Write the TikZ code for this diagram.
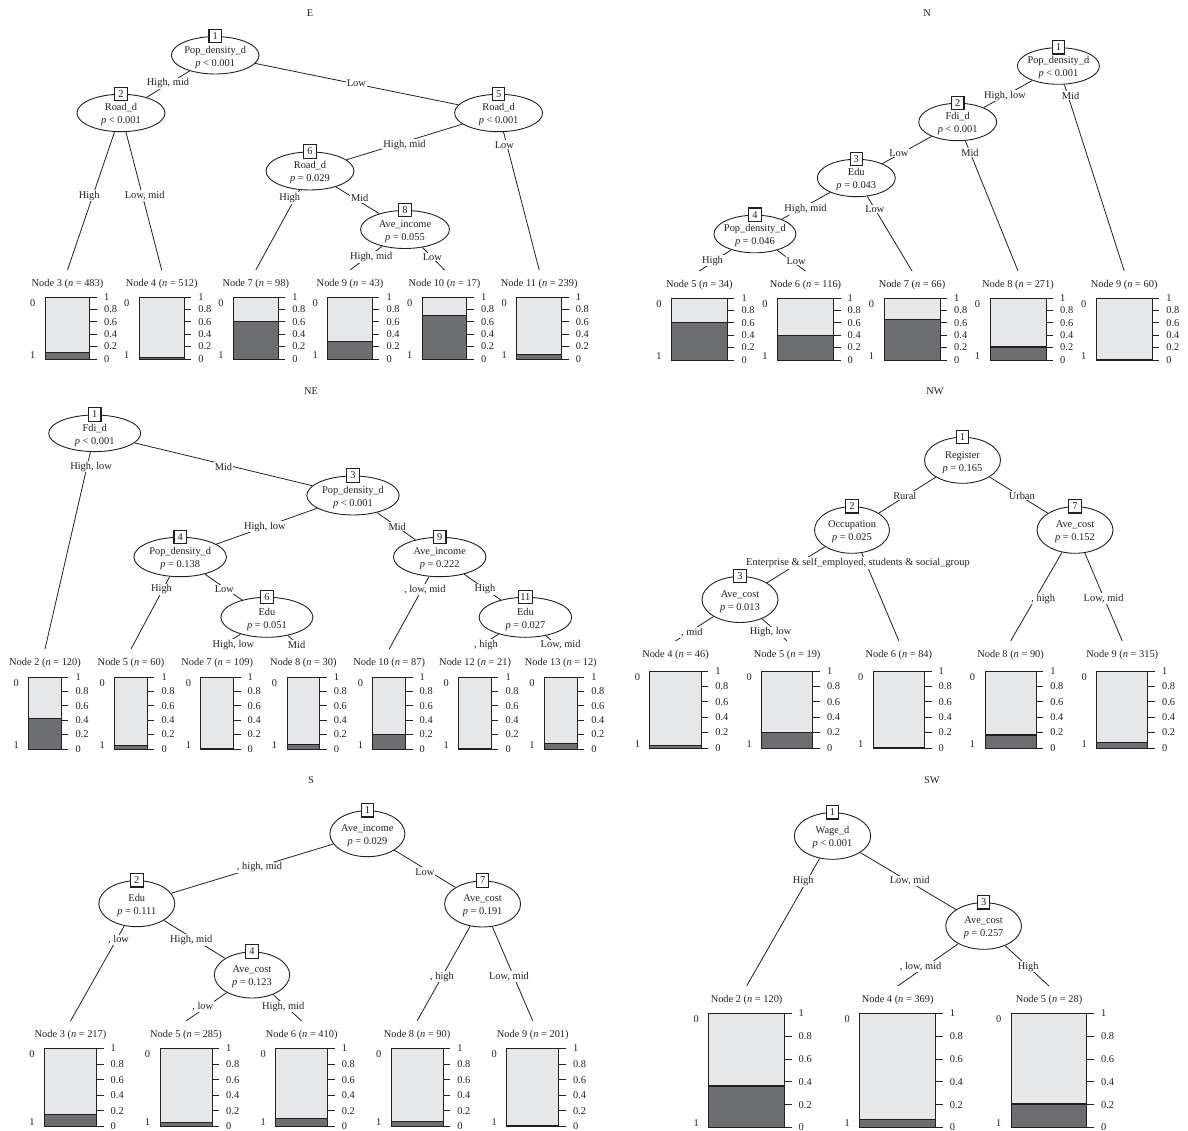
\documentclass[tikz,border=0pt]{standalone}
\usepackage{fontspec}
\setmainfont{Liberation Serif}
\usetikzlibrary{shapes.geometric}
\pgfdeclarelayer{bg}
\pgfsetlayers{bg,main}
\definecolor{barlight}{HTML}{E6E7E8}
\definecolor{bardark}{HTML}{6D6E71}
\definecolor{ink}{HTML}{231F20}
\tikzset{
  every node/.style={font=\fontsize{10.4}{13}\selectfont, text=ink},
  inode/.style={ellipse, draw=ink, line width=0.9pt, fill=white, inner sep=0pt, align=center},
  numbox/.style={draw=ink, line width=1.1pt, fill=white, inner xsep=2pt, inner ysep=0pt, minimum width=12.5pt, minimum height=13.5pt},
  elabs/.style={fill=white, inner sep=1pt},
  conn/.style={draw=ink, line width=0.8pt},
  hdr/.style={inner sep=0pt},
  ttl/.style={inner sep=0pt},
  ticklab/.style={inner sep=0pt},
  barframe/.style={draw=ink, line width=0.9pt},
  barsep/.style={draw=ink, line width=1.2pt},
}
\newcommand\pv[1]{\textit{p} #1}
\newcommand\ilinebox[1]{\raisebox{-4.3pt}[0pt][0pt]{\makebox[0pt]{#1}}}
\newcommand\treenode[8]{%
  \node[inode, minimum width=#4pt, minimum height=#5pt] (#1) at (#2,#3) {\ilinebox{#6}\\\ilinebox{#7}};
  \node[numbox] (#1n) at (#1.north) {#8};
}
\newcommand\elab[3]{\node[elabs] (#1) at (#2) {#3};}
% name, x, header y, node number, n, top, bottom, half width, dark fraction
\newcommand\leaf[9]{%
  \node[hdr] (#1) at (#2,#3) {Node #4 (\textit{n} = #5)};
  \coordinate (#1t) at (#2,#3-14);
  \pgfmathsetmacro\lbL{#2-#8}%
  \pgfmathsetmacro\lbR{#2+#8}%
  \pgfmathsetmacro\lbF{#7-(#7-#6)*#9}%
  \fill[barlight] (\lbL,#6) rectangle (\lbR,#7);
  \fill[bardark] (\lbL,\lbF) rectangle (\lbR,#7);
  \draw[barsep] (\lbL,\lbF) -- (\lbR,\lbF);
  \draw[barframe] (\lbL,#6) rectangle (\lbR,#7);
  \foreach \lbT/\lbLab [count=\lbI] in {0/1,0.2/0.8,0.4/0.6,0.6/0.4,0.8/0.2,1/0}{%
    \pgfmathsetmacro\lbY{#6+(#7-#6)*\lbT}%
    \draw[barframe] (\lbR,\lbY) -- ++(7,0);
    \node[ticklab, anchor=west] (#1k\lbI) at (\lbR+14,\lbY) {\lbLab};
  }
  \node[ticklab] (#1z) at (\lbL-12.5,#6+6) {0};
  \node[ticklab] (#1o) at (\lbL-12.5,#7-4) {1};
}
\begin{document}
\begin{tikzpicture}[x=1pt,y=-1pt]
\useasboundingbox (0,0) rectangle (1188,1131);

% ================= E =================
\node[ttl] (tE) at (310,13) {E};
\treenode{eA1}{215.2}{55.3}{87.6}{37.4}{Pop\_density\_d}{\pv{< 0.001}}{1}
\treenode{eA2}{121}{113}{88}{37.4}{Road\_d}{\pv{< 0.001}}{2}
\treenode{eA5}{498.6}{113}{88}{37.4}{Road\_d}{\pv{< 0.001}}{5}
\treenode{eA6}{310}{171}{88}{38}{Road\_d}{\pv{= 0.029}}{6}
\treenode{eA8}{405}{229.5}{89}{38}{Ave\_income}{\pv{= 0.055}}{8}
\leaf{eL3}{67.5}{284}{3}{483}{297}{359}{22.4}{0.10}
\leaf{eL4}{161.7}{284}{4}{512}{297}{359}{22.4}{0.02}
\leaf{eL7}{255.8}{284}{7}{98}{297}{359}{22.4}{0.60}
\leaf{eL9}{350}{284}{9}{43}{297}{359}{22.4}{0.28}
\leaf{eL10}{444.5}{284}{10}{17}{297}{359}{22.4}{0.70}
\leaf{eL11}{539.2}{284}{11}{239}{297}{359}{22.4}{0.07}
\elab{eE1}{168,83.3}{High, mid}
\elab{eE2}{356.3,83.3}{Low}
\elab{eE3}{89.2,195.7}{High}
\elab{eE4}{144.7,195.7}{Low, mid}
\elab{eE5}{404.5,144.7}{High, mid}
\elab{eE6}{504.4,144.7}{Low}
\elab{eE7}{289.7,198}{High}
\elab{eE8}{359.7,198}{Mid}
\elab{eE9}{371.2,257}{High, mid}
\elab{eE10}{432.4,257}{Low}
\begin{pgfonlayer}{bg}
\draw[conn] (eA1) -- (eA2);
\draw[conn] (eA1) -- (eA5);
\draw[conn] (eA2) -- (eL3t);
\draw[conn] (eA2) -- (eL4t);
\draw[conn] (eA5) -- (eA6);
\draw[conn] (eA5) -- (eL11t);
\draw[conn] (eA6) -- (eL7t);
\draw[conn] (eA6) -- (eA8);
\draw[conn] (eA8) -- (eL9t);
\draw[conn] (eA8) -- (eL10t);
\end{pgfonlayer}

% ================= N =================
\node[ttl] (tN) at (927,13) {N};
\treenode{nA1}{1058.4}{66}{82}{36.6}{Pop\_density\_d}{\pv{< 0.001}}{1}
\treenode{nA2}{957.7}{122}{78}{37.4}{Fdi\_d}{\pv{< 0.001}}{2}
\treenode{nA3}{856.3}{178}{78}{37.4}{Edu}{\pv{= 0.043}}{3}
\treenode{nA4}{754.9}{234}{82}{37.6}{Pop\_density\_d}{\pv{= 0.046}}{4}
\leaf{nL5}{699.4}{285}{5}{34}{298}{360}{28}{0.61}
\leaf{nL6}{805.5}{285}{6}{116}{298}{360}{28}{0.40}
\leaf{nL7}{912}{285}{7}{66}{298}{360}{28}{0.65}
\leaf{nL8}{1018}{285}{8}{271}{298}{360}{28}{0.21}
\leaf{nL9}{1124.2}{285}{9}{60}{298}{360}{28}{0.01}
\elab{nE1}{1005,95.7}{High, low}
\elab{nE2}{1070.6,95.7}{Mid}
\elab{nE3}{898.8,152.7}{Low}
\elab{nE4}{970,152.7}{Mid}
\elab{nE5}{805.5,209}{High, mid}
\elab{nE6}{874.8,209}{Low}
\elab{nE7}{712.5,260.7}{High}
\elab{nE8}{796.1,260.7}{Low}
\begin{pgfonlayer}{bg}
\draw[conn] (nA1) -- (nA2);
\draw[conn] (nA1) -- (nL9t);
\draw[conn] (nA2) -- (nA3);
\draw[conn] (nA2) -- (nL8t);
\draw[conn] (nA3) -- (nA4);
\draw[conn] (nA3) -- (nL7t);
\draw[conn] (nA4) -- (nL5t);
\draw[conn] (nA4) -- (nL6t);
\end{pgfonlayer}

% ================= NE =================
\node[ttl] (tNE) at (311,391) {NE};
\treenode{neA1}{94.7}{433.3}{92}{36.6}{Fdi\_d}{\pv{< 0.001}}{1}
\treenode{neA3}{353}{495.5}{92.3}{39}{Pop\_density\_d}{\pv{< 0.001}}{3}
\treenode{neA4}{180.2}{557}{92.6}{39.4}{Pop\_density\_d}{\pv{= 0.138}}{4}
\treenode{neA9}{439.7}{557}{92.6}{39.4}{Ave\_income}{\pv{= 0.222}}{9}
\treenode{neA6}{266.9}{617.3}{92}{40}{Edu}{\pv{= 0.051}}{6}
\treenode{neA11}{525.4}{617.3}{92.6}{40}{Edu}{\pv{= 0.027}}{11}
\leaf{neL2}{45}{663}{2}{120}{677}{749}{16.3}{0.42}
\leaf{neL5}{131}{663}{5}{60}{677}{749}{16.3}{0.05}
\leaf{neL7}{217.2}{663}{7}{109}{677}{749}{16.3}{0}
\leaf{neL8}{303.3}{663}{8}{30}{677}{749}{16.3}{0.06}
\leaf{neL10}{389.2}{663}{10}{87}{677}{749}{16.3}{0.20}
\leaf{neL12}{475.1}{663}{12}{21}{677}{749}{16.3}{0}
\leaf{neL13}{560.8}{663}{13}{12}{677}{749}{16.3}{0.08}
\elab{neE1}{91.1,466.7}{High, low}
\elab{neE2}{223.5,466.7}{Mid}
\elab{neE3}{264.8,526.7}{High, low}
\elab{neE4}{397.2,526.7}{Mid}
\elab{neE5}{161.5,589.3}{High}
\elab{neE6}{224.3,589.3}{Low}
\elab{neE7}{424.8,589.3}{, low, mid}
\elab{neE8}{484.9,589.3}{High}
\elab{neE9}{233.4,645}{High, low}
\elab{neE10}{296.6,645}{Mid}
\elab{neE11}{486,645}{, high}
\elab{neE12}{560.6,645}{Low, mid}
\begin{pgfonlayer}{bg}
\draw[conn] (neA1) -- (neL2t);
\draw[conn] (neA1) -- (neA3);
\draw[conn] (neA3) -- (neA4);
\draw[conn] (neA3) -- (neA9);
\draw[conn] (neA4) -- (neL5t);
\draw[conn] (neA4) -- (neA6);
\draw[conn] (neA6) -- (neL7t);
\draw[conn] (neA6) -- (neL8t);
\draw[conn] (neA9) -- (neL10t);
\draw[conn] (neA9) -- (neA11);
\draw[conn] (neA11) -- (neL12t);
\draw[conn] (neA11) -- (neL13t);
\end{pgfonlayer}

% ================= NW =================
\node[ttl] (tNW) at (935,391) {NW};
\treenode{nwA1}{962.5}{460.3}{76}{46}{Register}{\pv{= 0.165}}{1}
\treenode{nwA2}{852}{530}{75}{46.6}{Occupation}{\pv{= 0.025}}{2}
\treenode{nwA7}{1075}{530}{76}{46.6}{Ave\_cost}{\pv{= 0.152}}{7}
\treenode{nwA3}{740}{599.5}{76}{46}{Ave\_cost}{\pv{= 0.013}}{3}
\leaf{nwL4}{675.5}{655}{4}{46}{671}{748}{25.6}{0.03}
\leaf{nwL5}{787.2}{655}{5}{19}{671}{748}{25.6}{0.20}
\leaf{nwL6}{898.9}{655}{6}{84}{671}{748}{25.6}{0.01}
\leaf{nwL8}{1010.6}{655}{8}{90}{671}{748}{25.6}{0.17}
\leaf{nwL9}{1122.3}{655}{9}{315}{671}{748}{25.6}{0.07}
\elab{nwE1}{904.8,495.7}{Rural}
\elab{nwE2}{1021.8,495.7}{Urban}
\elab{nwE3}{858,563}{Enterprise \& self\_employed, students \& social\_group}
\elab{nwE4}{691.9,632.3}{, mid}
\elab{nwE5}{770.6,632.3}{High, low}
\elab{nwE6}{1043.2,598.7}{, high}
\elab{nwE7}{1103.6,598.7}{Low, mid}
\begin{pgfonlayer}{bg}
\draw[conn] (nwA1) -- (nwA2);
\draw[conn] (nwA1) -- (nwA7);
\draw[conn] (nwA2) -- (nwA3);
\draw[conn] (nwA2) -- (nwL6t);
\draw[conn] (nwA3) -- (nwL4t);
\draw[conn] (nwA3) -- (nwL5t);
\draw[conn] (nwA7) -- (nwL8t);
\draw[conn] (nwA7) -- (nwL9t);
\end{pgfonlayer}

% ================= S =================
\node[ttl] (tS) at (311,780) {S};
\treenode{sA1}{367.4}{833.7}{75}{46}{Ave\_income}{\pv{= 0.029}}{1}
\treenode{sA2}{136.8}{903.7}{76}{46}{Edu}{\pv{= 0.111}}{2}
\treenode{sA7}{482.6}{904}{76}{46}{Ave\_cost}{\pv{= 0.191}}{7}
\treenode{sA4}{252}{975}{75.4}{46}{Ave\_cost}{\pv{= 0.123}}{4}
\leaf{sL3}{70.5}{1035}{3}{217}{1048.5}{1126.5}{26}{0.15}
\leaf{sL5}{186}{1035}{5}{285}{1048.5}{1126.5}{26}{0.05}
\leaf{sL6}{301.7}{1035}{6}{410}{1048.5}{1126.5}{26}{0.10}
\leaf{sL8}{417.1}{1035}{8}{90}{1048.5}{1126.5}{26}{0.065}
\leaf{sL9}{532.8}{1035}{9}{201}{1048.5}{1126.5}{26}{0.013}
\elab{sE1}{259.5,867.3}{, high, mid}
\elab{sE2}{424.8,871.7}{Low}
\elab{sE3}{118.6,940}{, low}
\elab{sE4}{191.3,940}{High, mid}
\elab{sE5}{202.8,1006.7}{, low}
\elab{sE6}{283.2,1006.7}{High, mid}
\elab{sE7}{442,976.7}{, high}
\elab{sE8}{509,976.7}{Low, mid}
\begin{pgfonlayer}{bg}
\draw[conn] (sA1) -- (sA2);
\draw[conn] (sA1) -- (sA7);
\draw[conn] (sA2) -- (sL3t);
\draw[conn] (sA2) -- (sA4);
\draw[conn] (sA4) -- (sL5t);
\draw[conn] (sA4) -- (sL6t);
\draw[conn] (sA7) -- (sL8t);
\draw[conn] (sA7) -- (sL9t);
\end{pgfonlayer}

% ================= SW =================
\node[ttl] (tSW) at (932,780) {SW};
\treenode{swA1}{832.5}{836}{76.4}{46.6}{Wage\_d}{\pv{< 0.001}}{1}
\treenode{swA3}{983.6}{926}{75.8}{46.6}{Ave\_cost}{\pv{= 0.257}}{3}
\leaf{swL2}{746.6}{1000}{2}{120}{1013.5}{1127.5}{37.9}{0.364}
\leaf{swL4}{897.7}{1000}{4}{369}{1013.5}{1127.5}{37.9}{0.073}
\leaf{swL5}{1049}{1000}{5}{28}{1013.5}{1127.5}{37.9}{0.207}
\elab{swE1}{803.2,881}{High}
\elab{swE2}{909.7,881}{Low, mid}
\elab{swE3}{920.6,966.7}{, low, mid}
\elab{swE4}{1028.2,966.7}{High}
\begin{pgfonlayer}{bg}
\draw[conn] (swA1) -- (swL2t);
\draw[conn] (swA1) -- (swA3);
\draw[conn] (swA3) -- (swL4t);
\draw[conn] (swA3) -- (swL5t);
\end{pgfonlayer}
\end{tikzpicture}
\end{document}
